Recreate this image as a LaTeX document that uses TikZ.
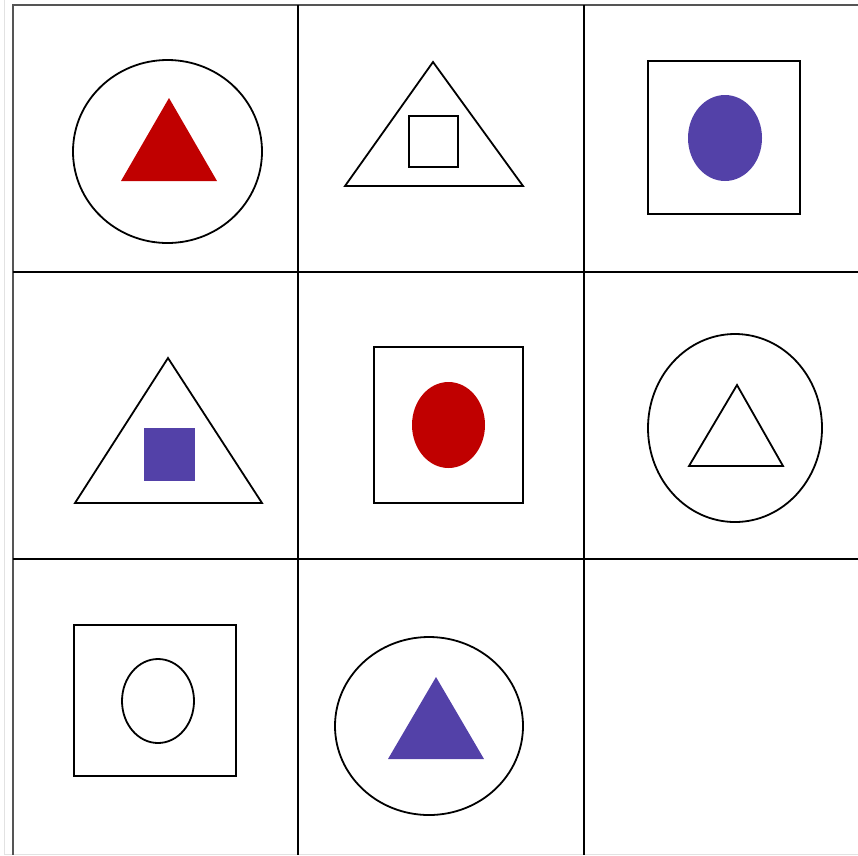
\documentclass[tikz,border=0pt]{standalone}
\usepackage{tikz}
\definecolor{Crimson}{HTML}{C00000}
\definecolor{Indigo}{HTML}{5341A8}
\definecolor{EdgeGray}{HTML}{555555}
\definecolor{FaintGray}{HTML}{E2E2E2}

\begin{document}
\begin{tikzpicture}[x=1pt,y=-1pt,
    outline/.style={draw=black,line width=1.8pt,line join=miter},
    gridline/.style={draw=black,line width=2pt},
    redfill/.style={fill=Crimson},
    bluefill/.style={fill=Indigo}]
    \useasboundingbox (0,0) rectangle (858,855);
    % faint frame of the image
    \draw[FaintGray,line width=1pt] (4,0) -- (4,854) -- (858,854);
    % grid
    \draw[gridline,EdgeGray] (858,5) -- (13,5) -- (13,855);
    \foreach \gx in {298,584} \draw[gridline] (\gx,5) -- (\gx,855);
    \foreach \gy in {272,559} \draw[gridline] (13,\gy) -- (858,\gy);
    % row 1
    \draw[outline] (167.5,151.5) ellipse [x radius=94.5,y radius=91.5];
    \fill[redfill] (169,98) -- (217,181) -- (121,181) -- cycle;
    \draw[outline] (433,62) -- (523,186) -- (345,186) -- cycle;
    \draw[outline] (409,116) rectangle (458,167);
    \draw[outline] (648,61) rectangle (800,214);
    \fill[bluefill] (725,138) ellipse [x radius=37,y radius=43];
    % row 2
    \draw[outline] (168,358) -- (262,503) -- (75,503) -- cycle;
    \fill[bluefill] (144,428) rectangle (195,481);
    \draw[outline] (374,347) rectangle (523,503);
    \fill[redfill] (448.5,425) ellipse [x radius=36.5,y radius=43];
    \draw[outline] (735,428) ellipse [x radius=87,y radius=94];
    \draw[outline] (737,385) -- (783,466) -- (689,466) -- cycle;
    % row 3
    \draw[outline] (74,625) rectangle (236,776);
    \draw[outline] (158,701) ellipse [x radius=36,y radius=42];
    \draw[outline] (429,726) ellipse [x radius=94,y radius=89];
    \fill[bluefill] (436,677) -- (484,759) -- (388,759) -- cycle;
\end{tikzpicture}
\end{document}
